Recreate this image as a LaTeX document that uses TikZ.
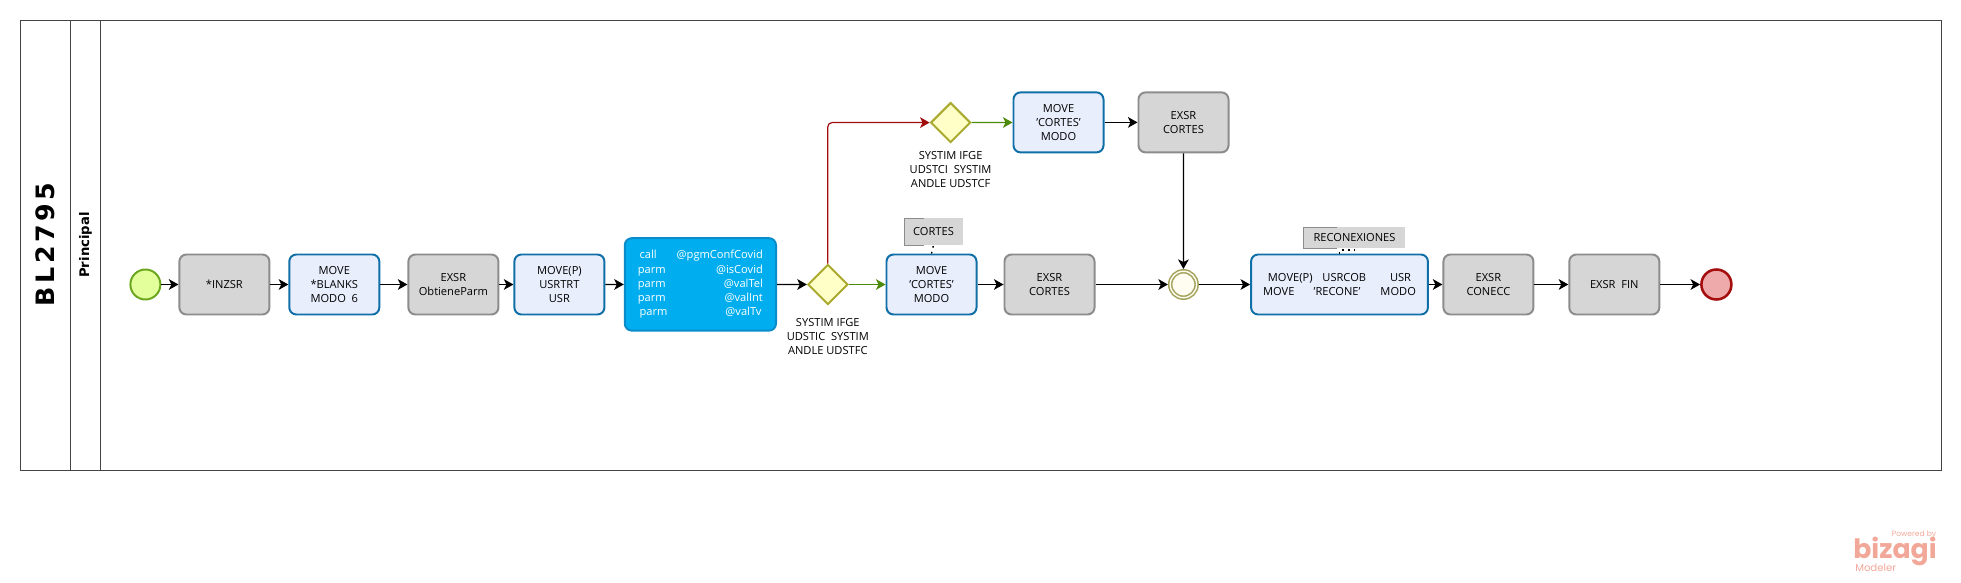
\documentclass[tikz,border=0pt]{standalone}
\usepackage{fontspec}
\setmainfont{Open Sans}
\newfontfamily\titlefont{DejaVu Sans}
\newfontfamily\brandfont{Poppins}
\usetikzlibrary{arrows.meta, shapes.geometric}

\definecolor{grayfill}{HTML}{D6D6D6}
\definecolor{grayline}{HTML}{8C8C8C}
\definecolor{taskfill}{HTML}{E9EEFD}
\definecolor{taskline}{HTML}{0F6FA6}
\definecolor{callfill}{HTML}{00AEEF}
\definecolor{callline}{HTML}{0A8CCB}
\definecolor{startfill}{HTML}{E2FF9B}
\definecolor{startline}{HTML}{6BA61E}
\definecolor{endfill}{HTML}{EEA9AA}
\definecolor{endline}{HTML}{A50E0E}
\definecolor{gatefill}{HTML}{FFFFC8}
\definecolor{gateline}{HTML}{A9A92E}
\definecolor{ringline}{HTML}{A3A35C}
\definecolor{ringfill}{HTML}{FFFCF2}
\definecolor{yesline}{HTML}{4D8A0A}
\definecolor{noline}{HTML}{A20E0E}
\definecolor{poolline}{HTML}{444444}
\definecolor{brand}{HTML}{F2A899}

\begin{document}
\begin{tikzpicture}[x=0.025cm, y=-0.025cm, >={Stealth[length=6.8pt,width=7.6pt,inset=1.8pt]}, font=\fontsize{7.9}{9.96}\selectfont]
    \useasboundingbox (0,0) rectangle (1961,583);

    % Define styles
    \tikzstyle{exsr}=[rectangle, rounded corners=5pt, line width=1.4pt, draw=grayline, fill=grayfill, minimum width=2.25cm, minimum height=1.5cm, align=center, text=black, outer sep=0.7pt]
    \tikzstyle{task}=[exsr, draw=taskline, fill=taskfill]
    \tikzstyle{gate}=[diamond, line width=1.4pt, draw=gateline, fill=gatefill, minimum width=1cm, minimum height=1cm, inner sep=0pt, outer sep=0.7pt]
    \tikzstyle{note}=[rectangle, fill=grayfill, inner sep=0pt, align=center]
    \tikzstyle{bracket}=[line width=0.6pt, draw=grayline]
    \tikzstyle{assoc}=[line width=1pt, dash pattern=on 1.2pt off 3.1pt]
    \tikzstyle{flow}=[->, line width=0.9pt, black]
    \tikzstyle{gatetext}=[align=center, inner sep=0pt]
    \tikzstyle{lane}=[line width=0.8pt, draw=poolline]

    % Pool and lane
    \draw[lane] (20.6,20.4) rectangle (1941.6,470.5);
    \draw[lane] (70.7,20.4) -- (70.7,470.5);
    \draw[lane] (100.6,20.4) -- (100.6,470.5);
    \node[rotate=90, font=\titlefont\bfseries\fontsize{18}{22}\selectfont] (pool) at (45.3,244.7) {\spaceskip=2.5pt B L 2 7 9 5};
    \node[rotate=90, font=\titlefont\bfseries\fontsize{9.4}{11}\selectfont] (lane) at (85.4,245) {Principal};

    % Main row
    \node[circle, line width=1.4pt, draw=startline, fill=startfill, minimum size=0.75cm, inner sep=0pt, outer sep=0.7pt] (start) at (145.4,284.5) {};
    \node[exsr] (inzsr) at (224.4,284.5) {*INZSR};
    \node[task] (blanks) at (334.3,284.5) {MOVE\\*BLANKS\\MODO\ \ 6};
    \node[exsr] (obtiene) at (453.4,284.5) {EXSR\\ObtieneParm};
    \node[task] (usrtrt) at (559.4,284.5) {MOVE(P)\\USRTRT\\USR};
    \node[rectangle, rounded corners=5pt, line width=1.4pt, draw=callline, fill=callfill, minimum width=3.78cm, minimum height=2.31cm, text=white, text width=88.9pt, align=left, inner sep=0pt, outer sep=0.7pt] (covid) at (700.4,284.4) {\hspace*{1.2pt}call\hfill @pgmConfCovid\hspace*{1.4pt}\\[0.7pt]parm\hfill @isCovid\\parm\hfill @valTel\\parm\hfill @valInt\hspace*{0.4pt}\\\hspace*{1.2pt}parm\hfill @valTv\hspace*{1pt}};
    \node[gate] (gatelow) at (827.8,284.5) {};
    \node[task] (movelow) at (931.5,284.5) {MOVE\\'CORTES'\\MODO};
    \node[exsr] (cortlow) at (1049.5,284.5) {EXSR\\CORTES};
    \node[circle, line width=1.1pt, draw=ringline, fill=ringfill, double=ringfill, double distance=1pt, minimum size=18.8pt, inner sep=0pt, outer sep=1.6pt] (merge) at (1183.4,284.5) {};
    \node[task, minimum width=4.42cm] (recone) at (1339.5,284.5) {MOVE(P)\hspace{7pt}USRCOB\hspace{17pt}USR\\MOVE\hspace{13.7pt}'RECONE'\hspace{14.2pt}MODO};
    \node[exsr] (conecc) at (1488.4,284.5) {EXSR\\CONECC};
    \node[exsr] (fin) at (1614.3,284.5) {EXSR\ \ FIN};
    \node[circle, line width=1.8pt, draw=endline, fill=endfill, minimum size=0.75cm, inner sep=0pt, outer sep=0.9pt] (stop) at (1716.4,284.5) {};

    % Upper row
    \node[gate] (gateup) at (950.6,122.6) {};
    \node[task] (moveup) at (1058.5,122.4) {MOVE\\'CORTES'\\MODO};
    \node[exsr] (cortup) at (1183.5,122.4) {EXSR\\CORTES};

    % Gateway and annotation texts
    \node[gatetext] (textlow) at (827.8,336.8) {SYSTIM IFGE\\UDSTIC\ \ SYSTIM\\ANDLE UDSTFC};
    \node[gatetext] (textup) at (950.6,170) {SYSTIM IFGE\\UDSTCI\ \ SYSTIM\\ANDLE UDSTCF};
    \node[note, minimum width=1.46cm, minimum height=0.66cm] (notecort) at (933.5,231.5) {CORTES};
    \node[note, minimum width=2.525cm, minimum height=0.51cm] (noterec) at (1354.5,237.5) {RECONEXIONES};
    \draw[bracket] ([xshift=0.5cm]notecort.north west) -- (notecort.north west) -- (notecort.south west) -- ([xshift=0.5cm]notecort.south west);
    \draw[bracket] ([xshift=0.84cm]noterec.north west) -- (noterec.north west) -- (noterec.south west) -- ([xshift=0.84cm]noterec.south west);
    \draw[assoc] (movelow.north) -- (notecort.south);
    \draw[assoc] (recone.north) -- ++(0,-3.5) -| (noterec.south);

    % Connectors
    \draw[flow] (start) -- (inzsr);
    \draw[flow] (inzsr) -- (blanks);
    \draw[flow] (blanks) -- (obtiene);
    \draw[flow] (obtiene) -- (usrtrt);
    \draw[flow] (usrtrt) -- (covid);
    \draw[flow] (covid) -- (gatelow);
    \draw[flow, yesline] (gatelow) -- (movelow);
    \draw[flow] (movelow) -- (cortlow);
    \draw[flow] (cortlow) -- (merge);
    \draw[flow] (merge) -- (recone);
    \draw[flow] (recone) -- (conecc);
    \draw[flow] (conecc) -- (fin);
    \draw[flow] (fin) -- (stop);
    \draw[flow, noline, line width=0.85pt, rounded corners=3pt] (gatelow.north) |- (gateup.west);
    \draw[flow, yesline] (gateup) -- (moveup);
    \draw[flow] (moveup) -- (cortup);
    \draw[flow] (cortup) -- (merge);

    % Watermark
    \node[anchor=east, inner sep=0pt, text=brand, font=\brandfont\fontsize{5.4}{7}\selectfont] (powered) at (1936.5,535) {Powered by};
    \node[anchor=east, inner sep=0pt, text=brand, font=\brandfont\bfseries\fontsize{19}{24}\selectfont] (bizagi) at (1937,551.5) {bizagi};
    \node[anchor=west, inner sep=0pt, text=brand, font=\brandfont\fontsize{7.2}{9}\selectfont] (modeler) at (1855,568) {Modeler};
\end{tikzpicture}
\end{document}
